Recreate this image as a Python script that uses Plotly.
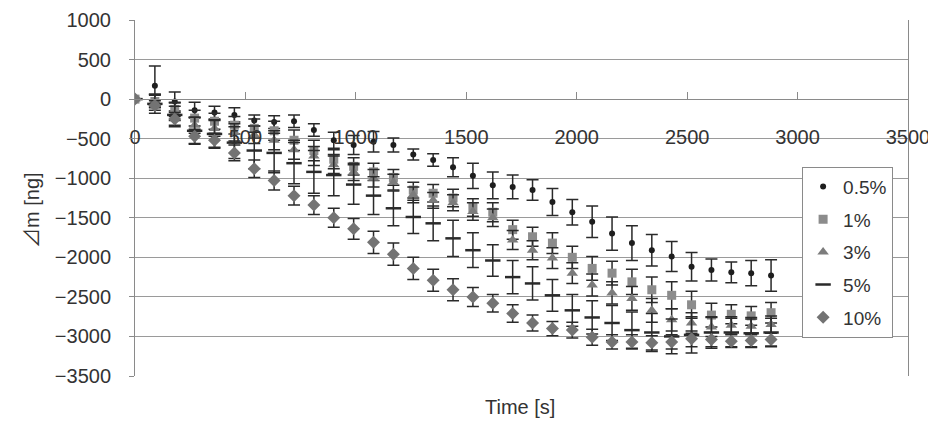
import plotly.graph_objects as go

time_s = [0, 90, 180, 270, 360, 450, 540, 630, 720, 810, 900, 990, 1080, 1170, 1260, 1350,
          1440, 1530, 1620, 1710, 1800, 1890, 1980, 2070, 2160, 2250, 2340, 2430, 2520,
          2610, 2700, 2790, 2880]

dm_05 = [0, 170, -30, -140, -170, -200, -270, -290, -280, -390, -520, -580, -540, -580, -700,
         -770, -860, -970, -1090, -1110, -1150, -1300, -1430, -1550, -1700, -1820, -1910,
         -1990, -2120, -2160, -2190, -2200, -2230]
err_05 = [0, 250, 120, 100, 80, 90, 70, 80, 80, 80, 100, 120, 130, 90, 70, 80, 120, 160,
          170, 150, 130, 170, 160, 200, 210, 220, 200, 190, 180, 140, 130, 160, 200]

dm_1 = [0, -30, -130, -240, -280, -330, -370, -400, -520, -650, -760, -850, -920, -990,
        -1150, -1190, -1250, -1370, -1430, -1650, -1740, -1820, -2000, -2140, -2200, -2310,
        -2410, -2480, -2600, -2730, -2720, -2740, -2700]
err_1 = [0, 80, 90, 100, 100, 110, 120, 120, 130, 130, 120, 110, 110, 100, 100, 110, 110,
         110, 120, 120, 120, 130, 140, 150, 150, 160, 160, 170, 170, 150, 120, 120, 130]

dm_3 = [0, -20, -180, -330, -370, -420, -450, -520, -640, -720, -830, -920, -1000, -1050,
        -1210, -1280, -1310, -1420, -1500, -1780, -1910, -2010, -2200, -2350, -2450, -2520,
        -2670, -2790, -2830, -2880, -2860, -2870, -2850]
err_3 = [0, 80, 90, 100, 100, 110, 110, 120, 120, 120, 110, 110, 110, 100, 100, 100, 100,
         110, 110, 120, 120, 130, 130, 140, 140, 150, 150, 140, 130, 120, 110, 110, 110]

dm_5 = [0, -60, -200, -400, -440, -550, -650, -680, -810, -920, -960, -1080, -1220, -1380,
        -1490, -1570, -1760, -1910, -2040, -2250, -2330, -2480, -2670, -2760, -2830, -2920,
        -2950, -3000, -2980, -2950, -2950, -2960, -2950]
err_5 = [0, 120, 150, 170, 180, 200, 230, 250, 260, 270, 260, 250, 240, 220, 210, 220, 230,
         220, 200, 210, 210, 200, 200, 210, 220, 230, 240, 220, 230, 200, 180, 180, 180]

dm_10 = [0, -80, -250, -470, -520, -680, -880, -1030, -1220, -1340, -1500, -1640, -1810,
         -1960, -2140, -2290, -2410, -2500, -2580, -2710, -2830, -2900, -2920, -3010, -3070,
         -3070, -3080, -3070, -3030, -3040, -3060, -3050, -3040]
err_10 = [0, 60, 80, 90, 90, 100, 110, 120, 120, 120, 120, 130, 140, 140, 140, 140, 140,
          120, 110, 110, 100, 90, 100, 100, 90, 90, 90, 90, 100, 90, 80, 80, 80]

labels = ["0.5%", "1%", "3%", "5%", "10%"]

FONT = "Liberation Sans, Arial, sans-serif"
TXT = "#333333"
ERRC = "#2a2a2a"

styles = [
    dict(symbol="circle", size=6, color="#1e1e1e", line=dict(width=0)),
    dict(symbol="square", size=9, color="#8c8c8c", line=dict(width=0)),
    dict(symbol="triangle-up", size=10, color="#7c7c7c", line=dict(width=0)),
    dict(symbol="line-ew", size=11, color="#2a2a2a", line=dict(width=2.5, color="#2a2a2a")),
    dict(symbol="diamond", size=10, color="#737373", line=dict(width=0)),
]

series = [dm_05, dm_1, dm_3, dm_5, dm_10]
errors = [err_05, err_1, err_3, err_5, err_10]

fig = go.Figure()
for i, (lab, ys, es, st) in enumerate(zip(labels, series, errors, styles)):
    fig.add_trace(go.Scatter(
        x=time_s, y=ys, mode="markers", name=lab,
        marker=st, legendgroup=f"g{i}",
        error_y=dict(type="data", array=es, visible=True, color=ERRC,
                     thickness=1.5, width=6),
    ))

# page body has an 8px margin, so the figure is shrunk by 8px on each axis
ymin, ymax = -3500, 1000
fig.update_layout(
    width=928, height=413,
    margin=dict(l=127, r=28, t=12, b=45, autoexpand=False),
    paper_bgcolor="white", plot_bgcolor="white",
    font=dict(family=FONT, size=20, color=TXT),
    showlegend=True,
    legend=dict(x=0.863, y=0.588, xanchor="left", yanchor="top",
                bgcolor="white", bordercolor="#8a8a8a", borderwidth=1,
                font=dict(family=FONT, size=19, color=TXT),
                tracegroupgap=5, itemwidth=30),
    xaxis=dict(range=[0, 3500], dtick=500, tick0=0, showgrid=False,
               zeroline=False, showline=True, linecolor="#8a8a8a", linewidth=1,
               ticks="inside", ticklen=7, tickcolor="#8a8a8a",
               anchor="free", position=(0 - ymin) / (ymax - ymin),
               ticklabelstandoff=20, automargin=False,
               tickfont=dict(family=FONT, size=20, color=TXT)),
    yaxis=dict(range=[ymin, ymax], dtick=500, tick0=0, showgrid=True,
               gridcolor="#9a9a9a", gridwidth=1, zeroline=False,
               showline=True, mirror=True, linecolor="#8a8a8a", linewidth=1,
               ticks="outside", ticklen=5, tickcolor="#8a8a8a",
               ticklabelstandoff=14, automargin=False,
               tickfont=dict(family=FONT, size=20, color=TXT)),
    annotations=[
        dict(text="<span style='font-family:Noto Sans CJK JP'>⊿</span>m [ng]",
             xref="paper", yref="paper", x=-0.136, y=0.466,
             textangle=-90, showarrow=False, xanchor="center", yanchor="middle",
             font=dict(family=FONT, size=20, color=TXT)),
        dict(text="Time [s]", xref="paper", yref="paper", x=0.498, y=-0.087,
             showarrow=False, xanchor="center", yanchor="middle",
             font=dict(family=FONT, size=20, color=TXT)),
    ],
)

fig.write_html("out.html")
